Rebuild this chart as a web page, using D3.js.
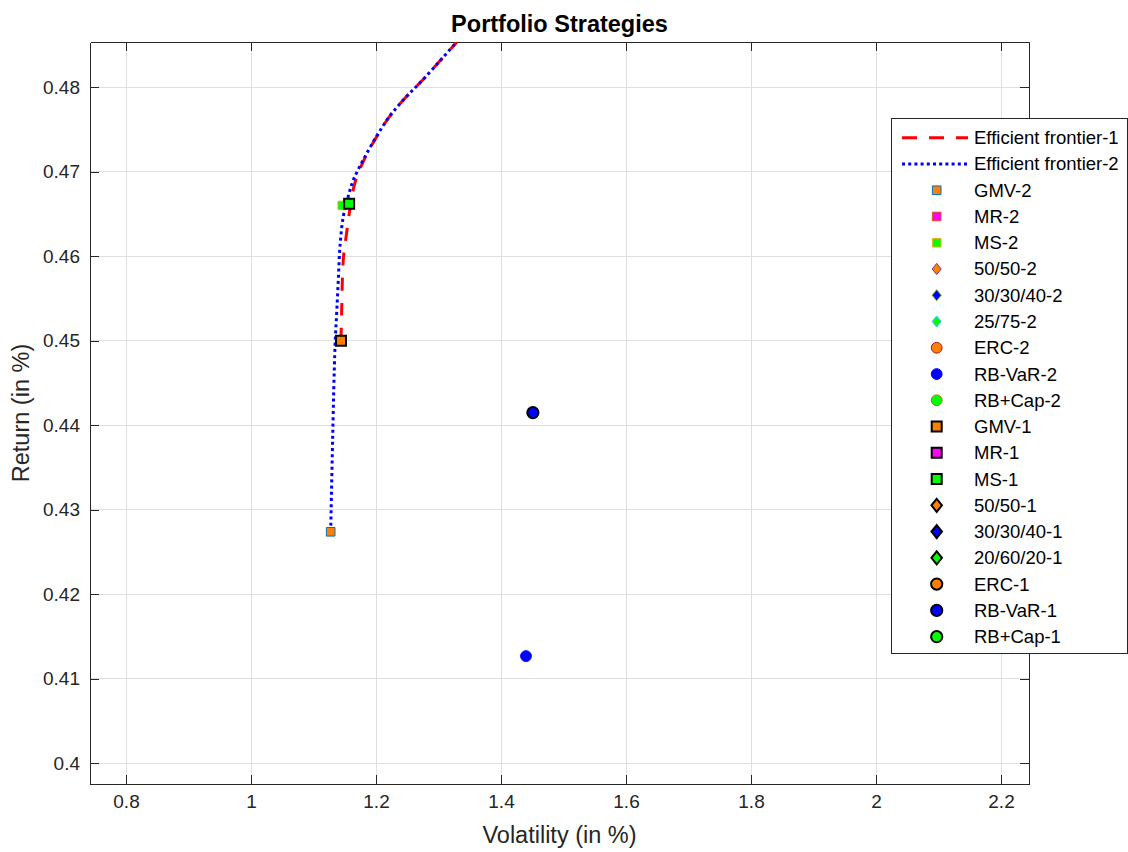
<!DOCTYPE html>
<html>
<head>
<meta charset="utf-8">
<script src="https://cdn.jsdelivr.net/npm/d3@7"></script>
<style>
  html, body { margin: 0; padding: 0; background: #fff; }
  svg { display: block; font-family: "Liberation Sans", Arial, Helvetica, sans-serif; }
</style>
</head>
<body>
<svg id="chart" width="1128" height="852"></svg>
<script>
// Efficient frontier 1 (volatility %, return %)
const frontier1Vol = [1.144, 1.1451, 1.1477, 1.1531, 1.1584, 1.1664, 1.1797, 1.1984, 1.2224, 1.249, 1.2704, 1.3024, 1.3291];
const frontier1Ret = [0.4500, 0.4537, 0.4596, 0.4628, 0.4656, 0.4687, 0.4712, 0.4738, 0.4766, 0.4789, 0.4805, 0.4831, 0.4853];

// Efficient frontier 2 (volatility %, return %)
const frontier2Vol = [1.1275, 1.1307, 1.1344, 1.1371, 1.1397, 1.1424, 1.1477, 1.1557, 1.1637, 1.1797, 1.2011, 1.2224, 1.249, 1.2704, 1.3024, 1.3287];
const frontier2Ret = [0.4274, 0.4386, 0.4493, 0.4533, 0.4572, 0.4612, 0.4647, 0.4671, 0.4690, 0.4714, 0.4742, 0.4766, 0.4789, 0.4805, 0.4831, 0.4853];

// Strategy portfolios
const strategyNames = ["GMV-2", "MR-2", "MS-2", "50/50-2", "30/30/40-2", "25/75-2", "ERC-2", "RB-VaR-2", "RB+Cap-2",
                       "GMV-1", "MR-1", "MS-1", "50/50-1", "30/30/40-1", "20/60/20-1", "ERC-1", "RB-VaR-1", "RB+Cap-1"];
const strategySymbols = ["square", "square", "square", "diamond", "diamond", "diamond", "circle", "circle", "circle",
                         "square", "square", "square", "diamond", "diamond", "diamond", "circle", "circle", "circle"];
const strategyFaces = ["#FF8000", "#FF00FF", "#00FF00", "#FF8000", "#0000FF", "#00FF00", "#FF8000", "#0000FF", "#00FF00",
                       "#FF8000", "#FF00FF", "#00FF00", "#FF8000", "#0000FF", "#00FF00", "#FF8000", "#0000FF", "#00FF00"];
const strategyEdges = ["#0072BD", "#D95319", "#EDB120", "#7E2F8E", "#77AC30", "#4DBEEE", "#A2142F", "#0000FF", "#D95319",
                       "#000000", "#000000", "#000000", "#000000", "#000000", "#000000", "#000000", "#000000", "#000000"];
// Points that fall inside the plotted window (null = outside the view)
const strategyVol = [1.1275, null, 1.146, null, null, null, null, 1.440, null,
                     1.144, null, 1.157, null, null, null, null, 1.451, null];
const strategyRet = [0.4274, null, 0.4660, null, null, null, null, 0.4127, null,
                     0.4500, null, 0.4662, null, null, null, null, 0.4415, null];

// Axis ticks
const xTicks = [0.8, 1, 1.2, 1.4, 1.6, 1.8, 2, 2.2];
const yTicks = [0.40, 0.41, 0.42, 0.43, 0.44, 0.45, 0.46, 0.47, 0.48];

const svg = d3.select("#chart");
const plotLeft = 90, plotRight = 1029, plotTop = 42, plotBottom = 784;
const axisColor = "#262626";
const tickFont = "19px", labelFont = "23.5px", legendFont = "18.5px";

const x = d3.scaleLinear().domain([0.7424, 2.2448]).range([plotLeft, plotRight]);
const y = d3.scaleLinear().domain([0.39757, 0.48533]).range([plotBottom, plotTop]);

// grid
const grid = svg.append("g");
grid.selectAll("line.gx").data(xTicks).join("line")
  .attr("x1", d => x(d)).attr("x2", d => x(d)).attr("y1", plotTop).attr("y2", plotBottom)
  .attr("stroke", "#dfdfdf").attr("stroke-width", 1).attr("shape-rendering", "crispEdges");
grid.selectAll("line.gy").data(yTicks).join("line")
  .attr("y1", d => y(d)).attr("y2", d => y(d)).attr("x1", plotLeft).attr("x2", plotRight)
  .attr("stroke", "#dfdfdf").attr("stroke-width", 1).attr("shape-rendering", "crispEdges");

// axes with inward ticks on all four sides
const tickLen = 9;
const fmt = d => String(+d.toFixed(2));
const xAxisB = d3.axisBottom(x).tickValues(xTicks).tickSizeInner(-tickLen).tickSizeOuter(0).tickPadding(11).tickFormat(fmt);
const xAxisT = d3.axisTop(x).tickValues(xTicks).tickSizeInner(-tickLen).tickSizeOuter(0).tickFormat("");
const yAxisL = d3.axisLeft(y).tickValues(yTicks).tickSizeInner(-tickLen).tickSizeOuter(0).tickPadding(10).tickFormat(fmt);
const yAxisR = d3.axisRight(y).tickValues(yTicks).tickSizeInner(-tickLen).tickSizeOuter(0).tickFormat("");

function styleAxis(g) {
  g.select(".domain").attr("stroke", axisColor).attr("stroke-width", 1);
  g.selectAll(".tick line").attr("stroke", axisColor).attr("stroke-width", 1);
  g.selectAll(".tick text").attr("fill", axisColor).style("font-size", tickFont);
  g.attr("font-family", null).attr("shape-rendering", "crispEdges");
}
svg.append("g").attr("transform", `translate(0,${plotBottom})`).call(xAxisB).call(styleAxis);
svg.append("g").attr("transform", `translate(0,${plotTop})`).call(xAxisT).call(styleAxis);
svg.append("g").attr("transform", `translate(${plotLeft},0)`).call(yAxisL).call(styleAxis);
svg.append("g").attr("transform", `translate(${plotRight},0)`).call(yAxisR).call(styleAxis);

// clipping to the axes area
svg.append("defs").append("clipPath").attr("id", "plotArea")
  .append("rect").attr("x", plotLeft).attr("y", plotTop).attr("width", plotRight - plotLeft).attr("height", plotBottom - plotTop);
const plot = svg.append("g").attr("clip-path", "url(#plotArea)");

const line = d3.line().x(d => x(d[0])).y(d => y(d[1])).curve(d3.curveCatmullRom.alpha(0.5));
const f1 = frontier1Vol.map((v, i) => [v, frontier1Ret[i]]);
const f2 = frontier2Vol.map((v, i) => [v, frontier2Ret[i]]);

plot.append("path").attr("d", line(f1)).attr("fill", "none")
  .attr("stroke", "#FF0000").attr("stroke-width", 3).attr("stroke-dasharray", "13,12");
plot.append("path").attr("d", line(f2)).attr("fill", "none")
  .attr("stroke", "#0000FF").attr("stroke-width", 3).attr("stroke-dasharray", "3,3.2");

// marker drawing
function markerPath(sym, s) {
  if (sym === "square") return `M${-s},${-s}H${s}V${s}H${-s}Z`;
  if (sym === "diamond") return `M0,${-s * 1.3}L${s * 1.05},0L0,${s * 1.3}L${-s * 1.05},0Z`;
  return d3.arc()({innerRadius: 0, outerRadius: s, startAngle: 0, endAngle: 2 * Math.PI});
}
function drawMarker(g, i, cx, cy) {
  const isOne = strategyEdges[i] === "#000000";
  const s = strategySymbols[i] === "circle" ? (isOne ? 5.6 : 5.4) : (isOne ? 5 : 4.3);
  g.append("path")
    .attr("d", markerPath(strategySymbols[i], s))
    .attr("transform", `translate(${cx},${cy})`)
    .attr("fill", strategyFaces[i])
    .attr("stroke", strategyEdges[i])
    .attr("stroke-width", isOne ? 2 : 1);
}
strategyNames.forEach((n, i) => {
  if (strategyVol[i] == null) return;
  drawMarker(plot, i, x(strategyVol[i]), y(strategyRet[i]));
});

// title and axis labels
svg.append("text").attr("x", (plotLeft + plotRight) / 2).attr("y", 31.5).attr("text-anchor", "middle")
  .style("font-size", labelFont).style("font-weight", "bold").attr("fill", "#000").text("Portfolio Strategies");
svg.append("text").attr("x", (plotLeft + plotRight) / 2).attr("y", 843).attr("text-anchor", "middle")
  .style("font-size", labelFont).attr("fill", axisColor).text("Volatility (in %)");
svg.append("text").attr("transform", `translate(29,${(plotTop + plotBottom) / 2}) rotate(-90)`).attr("text-anchor", "middle")
  .style("font-size", labelFont).attr("fill", axisColor).text("Return (in %)");

// legend
const lg = svg.append("g");
const lgX = 891, lgY = 118, lgW = 236, lgH = 535;
lg.append("rect").attr("x", lgX + 0.5).attr("y", lgY + 0.5).attr("width", lgW).attr("height", lgH)
  .attr("fill", "#fff").attr("stroke", axisColor).attr("stroke-width", 1);
const rowY = i => 137.7 + i * 26.26;
const textX = 974, markX = 936.7;

lg.append("line").attr("x1", 902).attr("x2", 968).attr("y1", rowY(0)).attr("y2", rowY(0))
  .attr("stroke", "#FF0000").attr("stroke-width", 3).attr("stroke-dasharray", "15,12");
lg.append("line").attr("x1", 902).attr("x2", 968).attr("y1", rowY(1)).attr("y2", rowY(1))
  .attr("stroke", "#0000FF").attr("stroke-width", 3).attr("stroke-dasharray", "3,3.2");
["Efficient frontier-1", "Efficient frontier-2"].forEach((t, i) => {
  lg.append("text").attr("x", textX).attr("y", rowY(i)).attr("dy", "0.35em")
    .style("font-size", legendFont).attr("fill", "#000").text(t);
});
strategyNames.forEach((n, i) => {
  const ry = rowY(i + 2);
  drawMarker(lg, i, markX, ry);
  lg.append("text").attr("x", textX).attr("y", ry).attr("dy", "0.35em")
    .style("font-size", legendFont).attr("fill", "#000").text(n);
});
</script>
</body>
</html>
